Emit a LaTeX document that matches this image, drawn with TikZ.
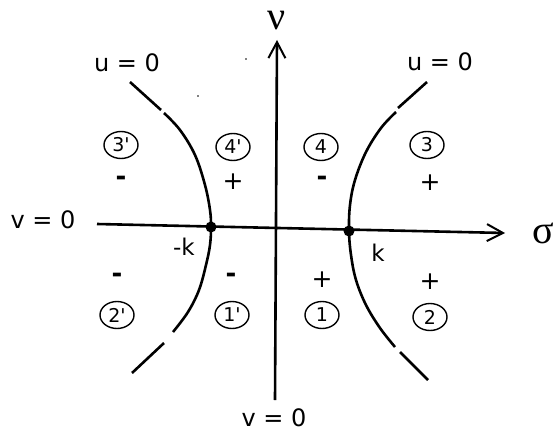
\documentclass[tikz,border=0pt]{standalone}
\usepackage{fontspec}
\setmainfont{DejaVu Sans}
\newfontfamily\plainfont{DejaVu Sans}
\newfontfamily\greekfont{Liberation Serif}
\usetikzlibrary{arrows.meta,shapes.geometric}
\tikzset{
  axis/.style={line width=2.6pt},
  curve/.style={line width=2.6pt, line cap=butt},
  region/.style={draw, ellipse, line width=1.4pt, minimum width=34pt, minimum height=27pt, inner sep=0pt, font=\plainfont\fontsize{19}{19}\selectfont},
  sign/.style={font=\plainfont\fontsize{25}{25}\selectfont, inner sep=0pt},
  minus/.style={font=\plainfont\bfseries\fontsize{26}{26}\selectfont, inner sep=0pt},
  lbl/.style={font=\plainfont\fontsize{24}{24}\selectfont, inner sep=0pt},
  greek/.style={font=\greekfont\fontsize{40}{40}\selectfont, inner sep=0pt},
  pt/.style={circle, fill=black, minimum size=11pt, inner sep=0pt}
}
\begin{document}
\begin{tikzpicture}[x=1pt,y=-1pt]
\useasboundingbox[fill=white] (0,0) rectangle (553,433);
% axes
\coordinate (hs) at (97,224);
\coordinate (he) at (505,233);
\coordinate (vs) at (275,400);
\coordinate (ve) at (277,40);
\draw[axis, -{Straight Barb[length=16pt,width=17pt,line width=2pt]}] (hs) -- (he);
\draw[axis, -{Straight Barb[length=16pt,width=17pt,line width=2pt]}] (vs) -- (ve);
\node[greek] (sigma) at (543,233) {σ};
\node[greek] (nu) at (277,21) {ν};
% left branch
\draw[curve] (130,82) -- (161,110);
\draw[curve] plot[smooth, tension=0.6] coordinates {(164,113) (180,130) (195,155) (205,185) (210,210) (211,227) (210,245) (206,265) (199,290) (188,312) (173,332)};
\draw[curve] (164,343) -- (132,373);
% right branch
\draw[curve] (427,82) -- (398,108);
\draw[curve] plot[smooth, tension=0.6] coordinates {(396,112) (381,128) (366,152) (355,180) (350,205) (349,231) (351,255) (356,280) (366,305) (380,328) (395,347)};
\draw[curve] (400,352) -- (428,380);
% points
\node[pt] (km) at (211,227) {};
\node[pt] (kp) at (349,231) {};
\node[lbl, font=\plainfont\fontsize{23}{23}\selectfont] (kml) at (184,247) {-k};
\node[lbl, font=\plainfont\fontsize{23}{23}\selectfont] (kpl) at (378,253) {k};
% labels
\node[lbl] (u1) at (127,63) {u = 0};
\node[lbl] (u2) at (440,62) {u = 0};
\node[lbl] (v1) at (43,220) {v = 0};
\node[lbl] (v2) at (274,418) {v = 0};
% regions
\node[region] (r3p) at (121,145) {3'};
\node[region] (r4p) at (233,147) {4'};
\node[region] (r4) at (321,147) {4};
\node[region] (r3) at (427,145) {3};
\node[region] (r2p) at (117,315) {2'};
\node[region] (r1p) at (232,315) {1'};
\node[region] (r1) at (322,315) {1};
\node[region] (r2) at (430,317) {2};
% signs
\node[minus] (s3p) at (121,181) {-};
\node[sign] (s4p) at (233,182) {+};
\node[minus] (s4) at (322,181) {-};
\node[sign] (s3) at (430,183) {+};
\node[minus] (s2p) at (117,278) {-};
\node[minus] (s1p) at (231,278) {-};
\node[sign] (s1) at (322,280) {+};
\node[sign] (s2) at (430,282) {+};
% stray specks
\fill (246,59) circle (0.8pt);
\fill (198,96) circle (0.8pt);
\end{tikzpicture}
\end{document}
